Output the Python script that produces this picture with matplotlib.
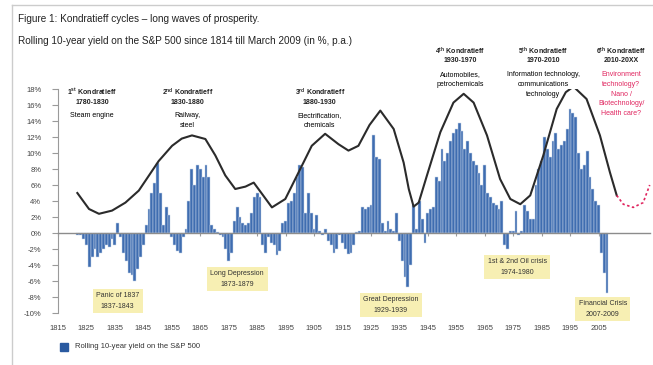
import numpy as np
import matplotlib
matplotlib.use('Agg')
import matplotlib.pyplot as plt
from matplotlib.lines import Line2D
from matplotlib.patches import Rectangle

plt.rcParams['font.family'] = ['Liberation Sans', 'DejaVu Sans']
plt.rcParams['mathtext.fontset'] = 'custom'
plt.rcParams['mathtext.rm'] = 'Liberation Sans'
plt.rcParams['mathtext.bf'] = 'Liberation Sans:bold'

# rolling 10-year yield, one value per year from 1822
first_year = 1822
yields = [
    -0.3, -0.3, -0.8, -1.5, -4.2, -3.0, -2.0, -3.0,              # 1822-1829
    -2.5, -2.0, -1.5, -1.8, -0.8, -1.5, 1.3, -0.5, -2.5, -3.5,   # 1830s
    -5.0, -5.2, -6.0, -4.5, -3.0, -1.5, 1.0, 3.0, 5.0, 6.3,      # 1840s
    8.8, 5.0, 1.0, 3.3, 2.3, -0.5, -1.5, -2.3, -2.5, -0.5,       # 1850s
    0.5, 4.0, 8.0, 6.0, 8.5, 8.0, 7.0, 8.5, 7.0, 1.0,            # 1860s
    0.5, 0.1, -0.3, -0.5, -2.0, -3.5, -2.5, 1.5, 3.3, 2.0,       # 1870s
    1.2, 1.0, 1.2, 2.5, 4.5, 5.0, 4.5, -1.5, -2.5, -0.5,         # 1880s
    -1.2, -1.5, -2.7, -2.3, 1.2, 1.5, 3.8, 4.0, 5.0, 7.0,        # 1890s
    8.5, 8.3, 2.5, 5.0, 2.5, 0.5, 2.3, 0.2, -0.3, 0.5,           # 1900s
    -1.0, -1.5, -2.5, -2.0, -0.3, -1.2, -2.0, -2.6, -2.5, -1.5,  # 1910s
    0.1, 0.3, 3.3, 3.0, 3.3, 3.5, 12.3, 9.5, 9.3, 1.3,           # 1920s
    0.2, 1.5, 0.5, 0.2, 2.5, -1.0, -3.5, -5.5, -6.8, -4.0,       # 1930s
    3.5, 0.5, 4.0, 1.8, -1.3, 2.5, 3.0, 3.2, 7.0, 6.5,           # 1940s
    10.5, 9.0, 10.0, 11.5, 12.5, 13.0, 13.8, 12.8, 10.5, 11.5,   # 1950s
    10.0, 9.0, 8.5, 7.5, 6.0, 8.5, 5.0, 4.5, 3.8, 3.5,           # 1960s
    3.0, 4.0, -1.5, -2.0, 0.3, 0.3, 2.8, -0.3, 0.2, 3.5,         # 1970s
    2.7, 1.8, 1.8, 6.0, 8.0, 9.0, 12.0, 10.5, 9.5, 11.5,         # 1980s
    12.5, 10.5, 11.0, 11.5, 13.0, 15.5, 15.0, 14.5, 10.0, 8.0,   # 1990s
    8.5, 10.3, 7.0, 5.5, 4.0, 3.5, -2.5, -5.0, -7.5,             # 2000s
]
years = np.arange(first_year, first_year + len(yields))

# long wave drawn over the bars
wave_years = [1821.8, 1825.9, 1829.4, 1834.0, 1838.7, 1843.4, 1847.0, 1850.4,
              1855.1, 1858.5, 1862.1, 1866.8, 1870.3, 1873.8, 1877.3, 1880.9,
              1883.8, 1886.7, 1890.2, 1894.9, 1899.6, 1904.2, 1908.9, 1913.6,
              1917.1, 1920.6, 1924.5, 1928.3, 1933.0, 1936.5, 1938.3, 1940.0,
              1941.8, 1944.7, 1949.4, 1954.0, 1957.6, 1961.1, 1965.8, 1970.4,
              1974.0, 1977.5, 1981.0, 1985.6, 1990.3, 1993.5, 1996.2, 2000.8,
              2005.5, 2009.0, 2011.4]
wave_vals = [5.0, 3.0, 2.4, 2.8, 3.8, 5.3, 7.2, 9.0,
             10.9, 11.8, 12.2, 11.75, 9.7, 7.2, 5.5, 5.8,
             6.3, 4.9, 3.2, 4.25, 7.6, 10.9, 12.4, 11.1,
             10.3, 10.9, 13.5, 15.3, 13.0, 8.8, 5.5, 3.3,
             3.8, 7.2, 12.6, 16.3, 17.4, 16.3, 12.2, 6.75,
             4.25, 3.6, 4.7, 9.7, 15.5, 17.6, 18.3, 16.75,
             12.2, 7.6, 4.7]
future_years = [2011.4, 2013.7, 2017.2, 2020.7, 2023.0]
future_vals = [4.7, 3.6, 3.2, 3.8, 6.0]

year_labels = list(range(1815, 2006, 10))
pct_ticks = list(range(-10, 19, 2))

waves = [
    (1827, r'1$^{\mathbf{st}}$ Kondratieff', '1780-1830', 'Steam engine', 92, 'k'),
    (1860.5, r'2$^{\mathbf{nd}}$ Kondratieff', '1830-1880', 'Railway,\nsteel', 92, 'k'),
    (1907, r'3$^{\mathbf{rd}}$ Kondratieff', '1880-1930', 'Electrification,\nchemicals', 92, 'k'),
    (1956.5, r'4$^{\mathbf{th}}$ Kondratieff', '1930-1970', 'Automobiles,\npetrochemicals', 51, 'k'),
    (1985.5, r'5$^{\mathbf{th}}$ Kondratieff', '1970-2010', 'Information technology,\ncommunications\ntechnology', 51, 'k'),
    (2013, r'6$^{\mathbf{th}}$ Kondratieff', '2010-20XX', 'Environment\ntechnology?\nNano /\nBiotechnology/\nHealth care?', 51, '#e0245e'),
]
crises = [
    (1836, 'Panic of 1837\n1837-1843', 301),
    (1878, 'Long Depression\n1873-1879', 279),
    (1932, 'Great Depression\n1929-1939', 305),
    (1976.5, '1st & 2nd Oil crisis\n1974-1980', 267),
    (2006.5, 'Financial Crisis\n2007-2009', 309),
]

W, H = 653, 365
fig = plt.figure(figsize=(W / 100, H / 100), dpi=100)
ax = fig.add_axes([58 / W, 1 - 313 / H, 592 / W, 224 / H])
ax.set_xlim(1815.35, 2023.1)
ax.set_ylim(-10, 18)

ax.bar(years, yields, width=1.0, color='#3f6db0', edgecolor='#c9d6ea', linewidth=0.35, zorder=2)
ax.plot(wave_years, wave_vals, color='#2b2b2b', lw=1.5, zorder=4, solid_joinstyle='round')
ax.plot(future_years, future_vals, color='#e0245e', lw=1.2, ls=(0, (1.5, 1.5)), zorder=4, clip_on=False)

for s in ['top', 'right']:
    ax.spines[s].set_visible(False)
ax.spines['bottom'].set_position(('data', 0))
ax.spines['bottom'].set_color('#8c8c8c')
ax.spines['bottom'].set_linewidth(1.0)
ax.spines['left'].set_color('#9a9a9a')
ax.set_xticks(year_labels)
ax.set_xticklabels([])
ax.tick_params(axis='x', length=2, color='#9a9a9a', direction='out')
ax.set_yticks(pct_ticks)
ax.set_yticklabels([f'{v}%' for v in pct_ticks])
ax.tick_params(axis='y', length=4, color='#9a9a9a', labelsize=5.5, labelcolor='#444444', pad=8)

for yr in year_labels:
    ax.text(yr, -12.0, str(yr), ha='center', va='center', fontsize=5.5, color='#444444', clip_on=False)

for x, head, period, desc, ytop, col in waves:
    yd = ax.transData.inverted().transform((0, H - ytop))[1]
    ax.text(x, yd, head, ha='center', va='center', fontsize=5, fontweight='bold', color='#222222', clip_on=False)
    yd = ax.transData.inverted().transform((0, H - ytop - 10))[1]
    ax.text(x, yd, period, ha='center', va='center', fontsize=5, fontweight='bold', color='#222222', clip_on=False)
    yd = ax.transData.inverted().transform((0, H - ytop - 20))[1]
    ax.text(x, yd, desc, ha='center', va='top', fontsize=5, color=col, linespacing=1.55, clip_on=False)

for x, txt, yc in crises:
    yd = ax.transData.inverted().transform((0, H - yc))[1]
    ax.text(x, yd, txt, ha='center', va='center', fontsize=5, color='#333333', linespacing=1.8,
            bbox=dict(boxstyle='square,pad=0.5', fc='#f7efb3', ec='none'), zorder=5, clip_on=False)

fig.text(18 / W, 1 - 19 / H, 'Figure 1: Kondratieff cycles \u2013 long waves of prosperity.',
         fontsize=7.2, color='#222222', va='center')
fig.text(18 / W, 1 - 41 / H, 'Rolling 10-year yield on the S&P 500 since 1814 till March 2009 (in %, p.a.)',
         fontsize=7.2, color='#222222', va='center')

fig.add_artist(Rectangle((60 / W, 1 - 351 / H), 8 / W, 8 / H, transform=fig.transFigure, color='#2a5aa0'))
fig.text(75 / W, 1 - 347 / H, 'Rolling 10-year yield on the S&P 500', fontsize=5.5, color='#333333', va='center')

fig.add_artist(Line2D([12 / W, 12 / W], [0, 1 - 5 / H], transform=fig.transFigure, color='#cccccc', lw=1))
fig.add_artist(Line2D([12 / W, 1], [1 - 5 / H, 1 - 5 / H], transform=fig.transFigure, color='#cccccc', lw=1))

fig.savefig('out.png', dpi=100)
